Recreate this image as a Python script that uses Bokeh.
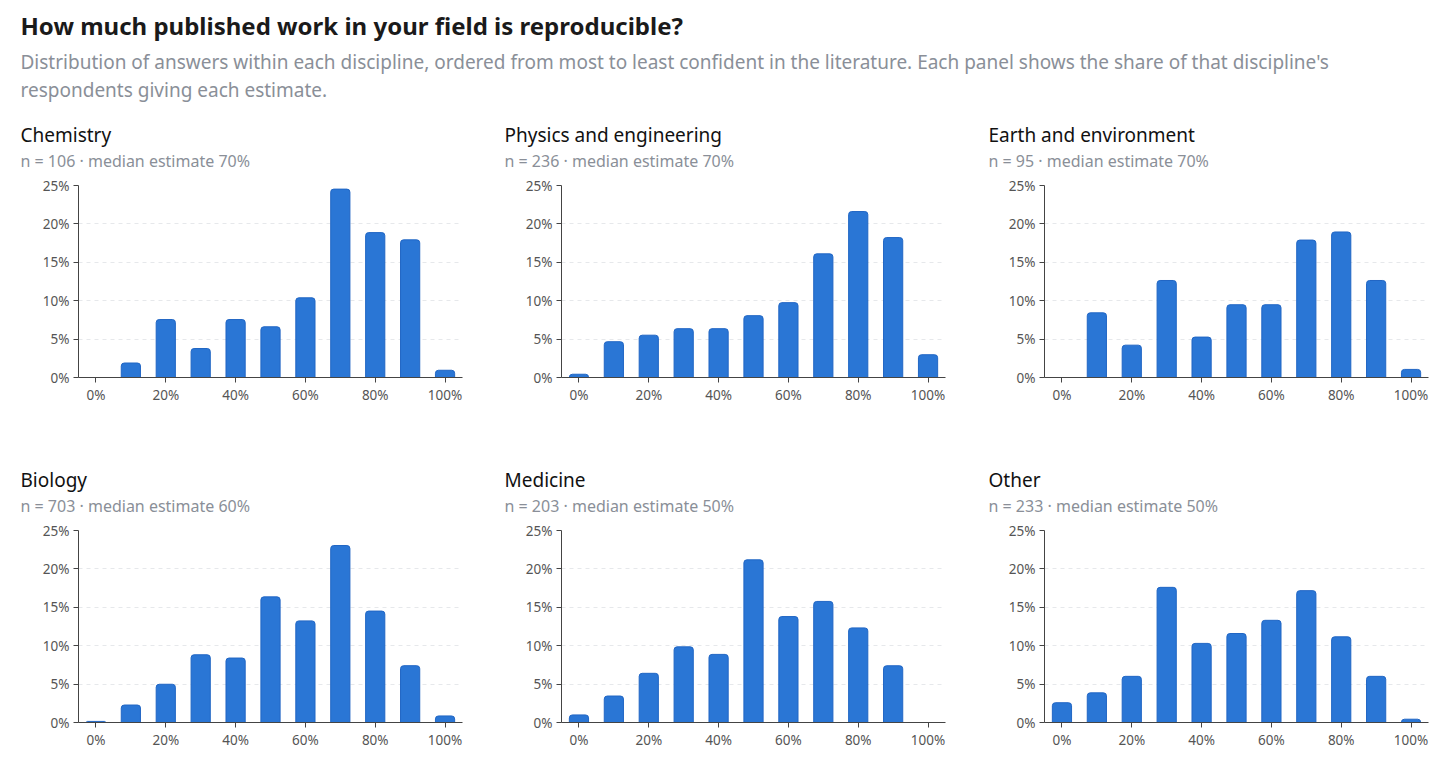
from bokeh.plotting import figure
from bokeh.models import Range1d, Title, FixedTicker, PrintfTickFormatter, ColumnDataSource
from bokeh.layouts import column, row
from bokeh.core.properties import value
from bokeh.embed import file_html
from bokeh.resources import INLINE

FONT = "Noto Sans"

# ---- data (counts of respondents per estimate bin) ----
estimates = [0, 10, 20, 30, 40, 50, 60, 70, 80, 90, 100]
disciplines = ["Chemistry", "Physics and engineering", "Earth and environment",
               "Biology", "Medicine", "Other"]
medians = [70, 70, 70, 60, 50, 50]
chemistry = [0, 2, 8, 4, 8, 7, 11, 26, 20, 19, 1]
physics = [1, 11, 13, 15, 15, 19, 23, 38, 51, 43, 7]
earth = [0, 8, 4, 12, 5, 9, 9, 17, 18, 12, 1]
biology = [1, 16, 35, 62, 59, 115, 93, 162, 102, 52, 6]
medicine = [2, 7, 13, 20, 18, 43, 28, 32, 25, 15, 0]
other = [6, 9, 14, 41, 24, 27, 31, 40, 26, 14, 1]
counts = [chemistry, physics, earth, biology, medicine, other]

y_ticks = [0, 5, 10, 15, 20, 25]
x_ticks = [0, 20, 40, 60, 80, 100]

title_text = "How much published work in your field is reproducible?"
subtitle_lines = [
    "Distribution of answers within each discipline, ordered from most to least confident in the literature. Each panel shows the share of that discipline's",
    "respondents giving each estimate.",
]

BAR = "#2a76d5"
BAR_LINE = "#2166c4"

# ---- header ----
header = figure(width=1456, height=118, x_range=Range1d(0, 1456), y_range=Range1d(118, 0),
                output_backend="svg", toolbar_location=None,
                x_axis_location=None, y_axis_location=None, min_border=0)
header.outline_line_color = None
header.grid.visible = False
header.text(x=[20], y=[25], text=[title_text], text_font=value(FONT), text_font_size="24px",
            text_font_style="bold", text_color="#1a1a1a", text_baseline="middle")
header.text(x=[20, 20], y=[61, 89], text=subtitle_lines, text_font=value(FONT),
            text_font_size="19px", text_color="#8a8f98", text_baseline="middle")


def panel(i, left_border, bottom_border, right_border, title_offset):
    c = counts[i]
    n = sum(c)
    xs = [e for e, v in zip(estimates, c) if v > 0]
    shares = [v / n * 100 for v in c if v > 0]
    src = ColumnDataSource(dict(x=xs, top=shares))
    p = figure(frame_width=384, frame_height=192,
               min_border_left=left_border, min_border_right=right_border,
               min_border_top=67, min_border_bottom=bottom_border,
               x_range=Range1d(-5, 105), y_range=Range1d(0, 25),
               output_backend="svg", toolbar_location=None)
    p.outline_line_color = None
    p.vbar(x="x", top="top", bottom=0, width=5.5, source=src, fill_color=BAR,
           line_color=BAR_LINE, line_width=1, border_radius=(3, 3, 0, 0))
    p.xgrid.visible = False
    p.ygrid.ticker = FixedTicker(ticks=y_ticks)
    p.ygrid.grid_line_color = "#e6e8eb"
    p.ygrid.grid_line_dash = "4 4"
    p.yaxis.ticker = FixedTicker(ticks=y_ticks)
    p.xaxis.ticker = FixedTicker(ticks=x_ticks)
    for ax in (p.xaxis[0], p.yaxis[0]):
        ax.formatter = PrintfTickFormatter(format="%d%%")
        ax.axis_line_color = "#444444"
        ax.major_tick_line_color = "#444444"
        ax.major_tick_out = 5
        ax.major_tick_in = 0
        ax.minor_tick_line_color = None
        ax.major_label_text_font = FONT
        ax.major_label_text_font_size = "13.5px"
        ax.major_label_text_color = "#555555"
    p.xaxis.major_label_standoff = 3
    p.yaxis.major_label_standoff = 4
    spacer = Title(text=" ", text_font_size="1px", standoff=11, text_color="#ffffff")
    sub = Title(text=f"n = {n} · median estimate {medians[i]}%", align="left",
                text_font=FONT, text_font_size="16px", text_font_style="normal",
                text_color="#8a8f98", offset=title_offset, standoff=0, text_line_height=1.0)
    ttl = Title(text=disciplines[i], align="left", text_font=FONT, text_font_size="19px",
                text_font_style="normal", text_color="#111111", offset=title_offset,
                standoff=0, text_line_height=1.0)
    p.add_layout(spacer, "above")
    p.add_layout(sub, "above")
    p.add_layout(ttl, "above")
    return p


top_row = row(panel(0, 78, 86, 29, -58), panel(1, 70, 86, 29, -57), panel(2, 70, 86, 16, -56))
bottom_row = row(panel(3, 78, 41, 29, -58), panel(4, 70, 41, 29, -57), panel(5, 70, 41, 16, -56))
layout = column(header, top_row, bottom_row)

open("out.html", "w").write(file_html(layout, INLINE))
